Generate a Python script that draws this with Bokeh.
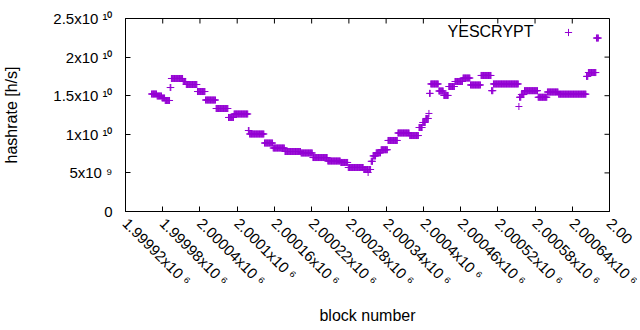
import math
from bokeh.plotting import figure
from bokeh.models import (Range1d, FixedTicker, Legend, LegendItem, Label,
                          ColumnDataSource)
from bokeh.embed import file_html
from bokeh.resources import INLINE

# ---- data (step runs) ----
seg_start = [1999962, 1999971, 1999979, 1999984, 1999992, 1999994, 2000013, 2000018,
             2000036, 2000049, 2000066, 2000086, 2000095, 2000118, 2000120, 2000144,
             2000158, 2000177, 2000203, 2000222, 2000246, 2000267, 2000279, 2000304,
             2000311, 2000312, 2000316, 2000319, 2000324, 2000332, 2000343, 2000359,
             2000378, 2000393, 2000399, 2000404, 2000409, 2000410, 2000412, 2000425,
             2000433, 2000441, 2000451, 2000464, 2000476, 2000493, 2000510, 2000513,
             2000554, 2000555, 2000558, 2000563, 2000585, 2000600, 2000618, 2000663,
             2000666, 2000679]
seg_value = [1.522e10, 1.496e10, 1.470e10, 1.438e10, 1.606e10, 1.723e10, 1.684e10, 1.645e10,
             1.554e10, 1.444e10, 1.334e10, 1.218e10, 1.263e10, 1.049e10, 1.004e10, 0.887e10,
             0.8225e10, 0.777e10, 0.758e10, 0.699e10, 0.654e10, 0.635e10, 0.570e10, 0.544e10,
             0.505e10, 0.544e10, 0.650e10, 0.720e10, 0.760e10, 0.800e10, 0.920e10, 1.017e10,
             0.984e10, 1.088e10, 1.153e10, 1.205e10, 1.270e10, 1.530e10, 1.652e10, 1.561e10,
             1.503e10, 1.619e10, 1.684e10, 1.729e10, 1.639e10, 1.762e10, 1.565e10, 1.652e10,
             1.360e10, 1.480e10, 1.515e10, 1.565e10, 1.480e10, 1.548e10, 1.520e10, 1.750e10,
             1.800e10, 2.247e10]
last_block = 2000682
series_name = "YESCRYPT"

x_ticks = [1999920, 1999980, 2000040, 2000100, 2000160, 2000220, 2000280,
           2000340, 2000400, 2000460, 2000520, 2000580, 2000640, 2000700]
# the last label runs off the page edge in the reference; only its visible start is kept
x_tick_labels = ["1.99992x10 \u2076", "1.99998x10 \u2076", "2.00004x10 \u2076",
                 "2.0001x10 \u2076", "2.00016x10 \u2076", "2.00022x10 \u2076",
                 "2.00028x10 \u2076", "2.00034x10 \u2076", "2.0004x10 \u2076",
                 "2.00046x10 \u2076", "2.00052x10 \u2076", "2.00058x10 \u2076",
                 "2.00064x10 \u2076", "2.00"]
y_ticks = [0, 5e9, 1e10, 1.5e10, 2e10, 2.5e10]
y_tick_labels = ["0", "5x10 \u2079", "1x10 \u00b9\u2070", "1.5x10 \u00b9\u2070",
                 "2x10 \u00b9\u2070", "2.5x10 \u00b9\u2070"]
x_min, x_max = 1999920, 2000700
y_min, y_max = 0, 2.5e10

blocks, rates = [], []
for i, s in enumerate(seg_start):
    e = seg_start[i + 1] - 1 if i + 1 < len(seg_start) else last_block
    for b in range(s, e + 1):
        blocks.append(b)
        rates.append(seg_value[i])

FONT = "Liberation Sans"
FS = "15px"
FS_BIG = "16px"
COLOR = "#9400D3"

p = figure(width=640, height=330, output_backend="svg", toolbar_location=None,
           x_range=Range1d(x_min, x_max), y_range=Range1d(y_min, y_max),
           min_border_left=124, min_border_right=31, min_border_top=18,
           min_border_bottom=119)
p.xgrid.visible = False
p.ygrid.visible = False
p.outline_line_color = "black"
p.outline_line_width = 1
p.background_fill_color = "white"
p.border_fill_color = "white"

src = ColumnDataSource(dict(block=blocks, rate=rates))
r = p.scatter("block", "rate", source=src, marker="cross", size=7,
              line_color=COLOR, line_width=1)

# mirrored ticks on top and right edges
p.ray(x=x_ticks, y=[y_max] * len(x_ticks), length=5, length_units="screen",
      angle=-math.pi / 2, line_color="black", line_width=1)
p.ray(x=[x_max] * len(y_ticks), y=y_ticks, length=5, length_units="screen",
      angle=math.pi, line_color="black", line_width=1)


def style(ax):
    ax.major_tick_in = 5
    ax.major_tick_out = 0
    ax.minor_tick_line_color = None
    ax.axis_line_color = "black"
    ax.major_tick_line_color = "black"
    ax.major_label_text_font = FONT
    ax.major_label_text_font_size = FS
    ax.major_label_text_color = "black"
    ax.axis_label_text_font = FONT
    ax.axis_label_text_font_size = FS_BIG
    ax.axis_label_text_font_style = "normal"
    ax.axis_label_text_color = "black"


xa = p.xaxis[0]
xa.ticker = FixedTicker(ticks=x_ticks)
xa.major_label_overrides = {t: l for t, l in zip(x_ticks, x_tick_labels)}
xa.major_label_orientation = -math.pi / 4
xa.axis_label = "block number"
style(xa)
xa.major_label_standoff = 9
xa.axis_label_standoff = 9

ya = p.yaxis[0]
ya.ticker = FixedTicker(ticks=y_ticks)
ya.major_label_overrides = {t: l for t, l in zip(y_ticks, y_tick_labels)}
ya.axis_label = "hashrate [h/s]"
style(ya)
ya.major_label_standoff = 13
ya.axis_label_standoff = 30

# key: text then sample, as in the reference
p.add_layout(Label(x=408, y=180, x_units="screen", y_units="screen",
                   text=series_name, text_align="right", text_baseline="middle",
                   text_font=FONT, text_font_size=FS_BIG, text_color="black"))
legend = Legend(items=[LegendItem(label=" ", renderers=[r])],
                location=(434, 170), glyph_width=18, glyph_height=18,
                label_height=18, label_width=1, label_standoff=0,
                padding=0, margin=0, spacing=0,
                border_line_alpha=0, background_fill_alpha=0,
                label_text_font=FONT, label_text_font_size="8px")
p.add_layout(legend)

open("out.html", "w").write(file_html(p, INLINE))
